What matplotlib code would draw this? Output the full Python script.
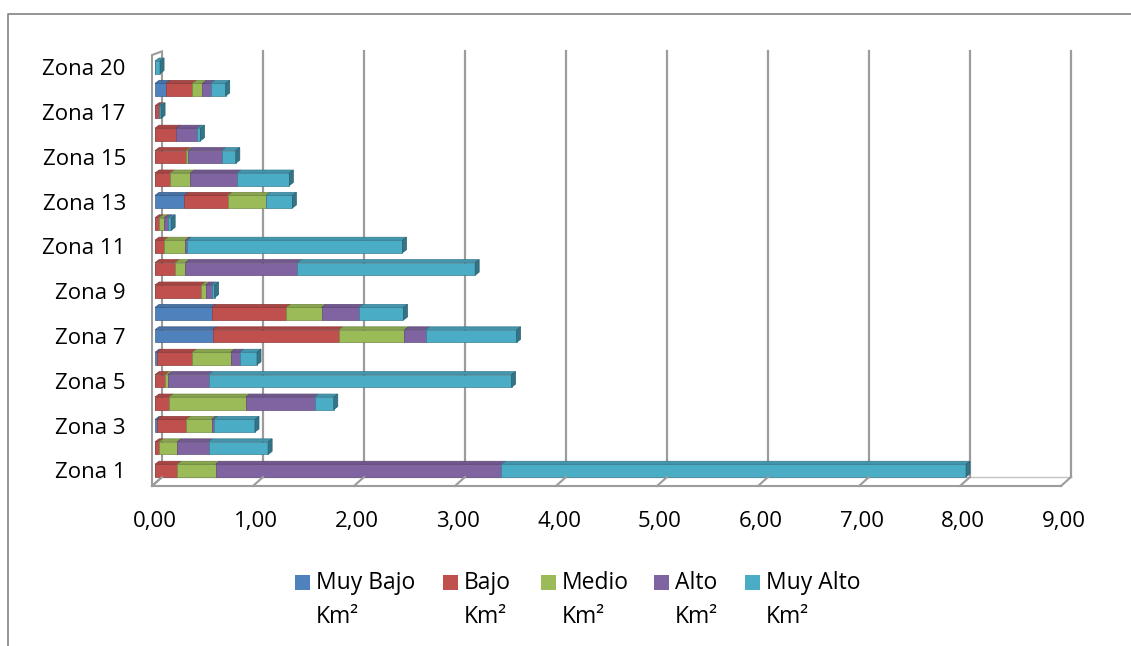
import matplotlib
matplotlib.use("Agg")
import matplotlib.pyplot as plt
import numpy as np
from matplotlib.patches import Polygon, Rectangle
from matplotlib.lines import Line2D
from matplotlib.colors import to_rgb

# ---- data (km² per risk class and zone) ----
categories = [f"Zona {i}" for i in range(1, 18)] + ["Zona 18", "Zona 20"]
muy_bajo = [0.00, 0.00, 0.02, 0.00, 0.00, 0.02, 0.57, 0.56, 0.00, 0.00,
            0.00, 0.00, 0.29, 0.00, 0.00, 0.00, 0.00, 0.11, 0.00]
bajo = [0.22, 0.04, 0.29, 0.14, 0.10, 0.35, 1.25, 0.74, 0.46, 0.20,
        0.09, 0.04, 0.43, 0.15, 0.31, 0.21, 0.04, 0.26, 0.00]
medio = [0.38, 0.18, 0.25, 0.76, 0.03, 0.38, 0.65, 0.35, 0.04, 0.10,
         0.21, 0.05, 0.38, 0.20, 0.02, 0.00, 0.00, 0.10, 0.00]
alto = [2.83, 0.31, 0.02, 0.68, 0.40, 0.09, 0.21, 0.37, 0.06, 1.11,
        0.02, 0.04, 0.00, 0.46, 0.33, 0.21, 0.00, 0.08, 0.00]
muy_alto = [4.60, 0.59, 0.41, 0.19, 3.00, 0.17, 0.90, 0.44, 0.03, 1.76,
            2.13, 0.03, 0.26, 0.52, 0.14, 0.03, 0.02, 0.15, 0.05]
series_labels = ["Muy Bajo\nKm²", "Bajo\nKm²", "Medio\nKm²", "Alto\nKm²", "Muy Alto\nKm²"]
colors = ["#4F81BD", "#C0504D", "#9BBB59", "#8064A2", "#4BACC6"]
x_ticks = list(range(0, 10))
x_tick_labels = [f"{v:.2f}".replace(".", ",") for v in x_ticks]

plt.rcParams['font.family'] = ['Open Sans', 'DejaVu Sans']
FS = 16
GRID = "#9C9C9C"

W, H = 1131, 646
fig = plt.figure(figsize=(W / 100, H / 100), dpi=100)


def fx(px):
    return px / W


def fy(py):
    return 1 - py / H


def shade(c, f):
    r, g, b = to_rgb(c)
    return (r * f, g * f, b * f)


# outer chart border (top and left edges)
fig.add_artist(Line2D([fx(8), fx(8), 1.0], [0.0, fy(14), fy(14)],
                      color="#8C8C8C", lw=1.3))

ax = fig.add_axes([fx(155), fy(483), fx(1064) - fx(155), fy(50) - fy(483)])
ymin, ymax = -0.558, 18.77
ax.set_xlim(0, 9)
ax.set_ylim(ymin, ymax)
for sp in ax.spines.values():
    sp.set_visible(False)

# data units per pixel
inv = ax.transData.inverted()
p0 = inv.transform((0, 0))
p1 = inv.transform((1, 1))
ddx, ddy = p1[0] - p0[0], p1[1] - p0[1]

FRONT = (-3, -3)
BACK = (7, 6)


def P(x, y, plane):
    return (x + plane[0] * ddx, y + plane[1] * ddy)


wall_top_front, wall_top_back = 18.68, 18.44

# left wall
ax.add_patch(Polygon([P(0, ymin, FRONT), P(0, wall_top_front, FRONT),
                      P(0, wall_top_back, BACK), P(0, ymin, BACK)],
                     closed=True, fc="white", ec=GRID, lw=1.5, zorder=1,
                     clip_on=False, joinstyle="miter"))
# back wall gridlines
for k in x_ticks[1:]:
    ax.add_line(Line2D(*zip(P(k, ymin, BACK), P(k, wall_top_back, BACK)),
                       color=GRID, lw=1.6, zorder=1, clip_on=False))
# floor
ax.add_line(Line2D(*zip(P(0, ymin, BACK), P(9, ymin, BACK)),
                   color="#C4C4C4", lw=1.0, zorder=1, clip_on=False))
ax.add_line(Line2D(*zip(P(0, ymin, FRONT), P(9, ymin, FRONT)),
                   color=GRID, lw=1.5, zorder=4, clip_on=False))
for k in x_ticks:
    ax.add_line(Line2D(*zip(P(k, ymin, FRONT), P(k, ymin, BACK)),
                       color=GRID, lw=1.5, zorder=4, clip_on=False))

# stacked 3D bars
n = len(categories)
yy = np.arange(n)
data = np.array([muy_bajo, bajo, medio, alto, muy_alto])
bar_h = 12.5 * ddy
dx, dy = 4 * ddx, 3 * ddy
left = np.zeros(n)
for s in range(len(colors)):
    vals = data[s]
    ax.barh(yy, vals, left=left, height=bar_h, color=colors[s],
            edgecolor=shade(colors[s], 0.75), linewidth=0.5, zorder=3)
    for i in range(n):
        if vals[i] <= 0:
            continue
        x0, x1 = left[i], left[i] + vals[i]
        yt = yy[i] + bar_h / 2
        ax.add_patch(Polygon([(x0, yt), (x1, yt), (x1 + dx, yt + dy), (x0 + dx, yt + dy)],
                             closed=True, fc=shade(colors[s], 0.88),
                             ec=shade(colors[s], 0.7), lw=0.5, zorder=3, clip_on=False))
    left = left + vals

# right end caps
for i in range(n):
    nz = [s for s in range(len(colors)) if data[s][i] > 0]
    if not nz:
        continue
    s = nz[-1]
    x1 = left[i]
    yb, yt = yy[i] - bar_h / 2, yy[i] + bar_h / 2
    ax.add_patch(Polygon([(x1, yb), (x1 + dx, yb + dy), (x1 + dx, yt + dy), (x1, yt)],
                         closed=True, fc=shade(colors[s], 0.68),
                         ec=shade(colors[s], 0.55), lw=0.5, zorder=3, clip_on=False))

# axis labels
ax.set_yticks(yy[::2])
ax.set_yticklabels(categories[::2])
ax.set_xticks(x_ticks)
ax.set_xticklabels(x_tick_labels)
ax.tick_params(axis="y", length=0, pad=21, labelsize=FS)
ax.tick_params(axis="x", length=0, pad=20, labelsize=FS)

# legend
text_x = [316, 464, 562, 675, 766]
for c, lab, tx in zip(colors, series_labels, text_x):
    fig.add_artist(Rectangle((fx(tx - 21), fy(590)), 15 / W, 15 / H,
                             transform=fig.transFigure, fc=c, ec="none"))
    fig.text(fx(tx), fy(571), lab, fontsize=16.5, va="top", ha="left",
             linespacing=1.55)

fig.savefig("out.png", dpi=100)
